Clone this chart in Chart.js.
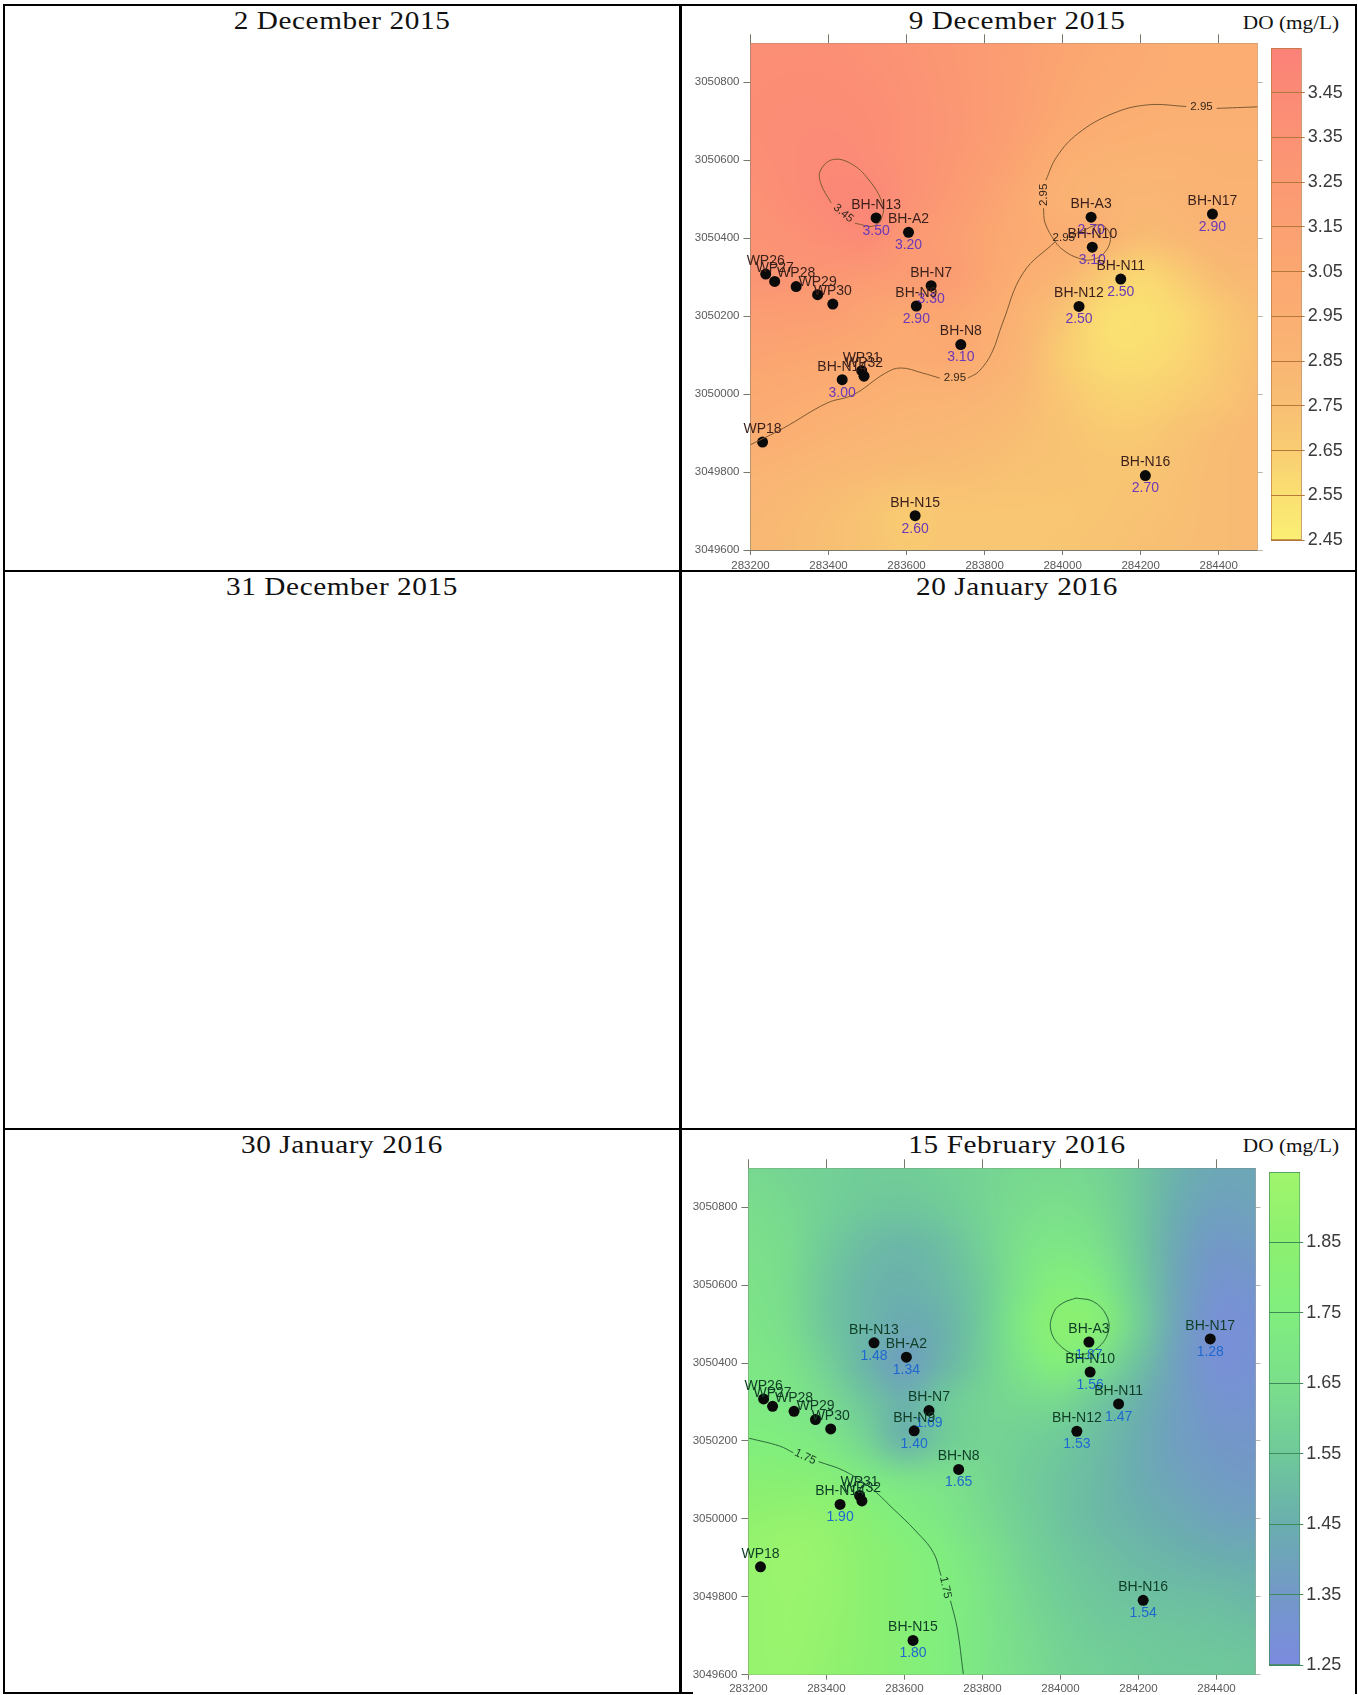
<!DOCTYPE html>
<html>
<head>
<meta charset="utf-8">
<title>DO (mg/L)</title>
<script src="https://cdn.jsdelivr.net/npm/chart.js@4"></script>
<style>
  body { margin: 0; background: #fff; }
  #page { position: relative; width: 1358px; height: 1695px; overflow: hidden; }
  .rule { position: absolute; background: #000; }
  .title { position: absolute; width: 400px; text-align: center; color: #111;
           font: 25px "Liberation Serif", serif; letter-spacing: 0.5px;
           transform: translate(-50%, -50%) scaleX(1.17); white-space: nowrap; }
  .unit { position: absolute; color: #111; font: 19px "Liberation Serif", serif;
          transform: translate(-50%, -50%) scaleX(1.12); white-space: nowrap; }
  canvas { position: absolute; filter: blur(0.45px); }
</style>
</head>
<body>
<div id="page">
  <div class="rule" style="left:3px;top:4px;width:1354px;height:2px"></div>
  <div class="rule" style="left:3px;top:570px;width:1354px;height:2px"></div>
  <div class="rule" style="left:3px;top:1128px;width:1354px;height:2px"></div>
  <div class="rule" style="left:3px;top:1692px;width:690px;height:2px"></div>
  <div class="rule" style="left:3px;top:4px;width:2px;height:1690px"></div>
  <div class="rule" style="left:679px;top:4px;width:3px;height:1690px"></div>
  <div class="rule" style="left:1355px;top:4px;width:2px;height:1690px"></div>

  <div class="title" style="left:342px;top:21px">2 December 2015</div>
  <div class="title" style="left:1017px;top:21px">9 December 2015</div>
  <div class="title" style="left:342px;top:587px">31 December 2015</div>
  <div class="title" style="left:1017px;top:587px">20 January 2016</div>
  <div class="title" style="left:342px;top:1145px">30 January 2016</div>
  <div class="title" style="left:1017px;top:1145px">15 February 2016</div>
  <div class="unit" style="left:1291px;top:23px">DO (mg/L)</div>
  <div class="unit" style="left:1291px;top:1146px">DO (mg/L)</div>

  <canvas id="decMap" width="580" height="538" style="left:690px;top:32px"></canvas>
  <canvas id="decBar" width="82" height="552.4" style="left:1271px;top:18px"></canvas>
  <canvas id="febMap" width="580" height="538" style="left:688px;top:1157px"></canvas>
  <canvas id="febBar" width="84" height="553.6" style="left:1269px;top:1141.7px"></canvas>
</div>

<script>
// ===================================
// DATA
// ===================================
const xTickValues = [283200, 283400, 283600, 283800, 284000, 284200, 284400];
const yTickValues = [3049600, 3049800, 3050000, 3050200, 3050400, 3050600, 3050800];

// monitoring wells, same positions in both maps
const wellNames = ['BH-N13', 'BH-A2', 'BH-A3', 'BH-N17', 'BH-N10', 'BH-N11', 'BH-N7', 'BH-N9', 'BH-N12', 'BH-N8', 'BH-N14', 'WP31', 'WP32', 'WP18', 'BH-N16', 'BH-N15', 'WP26', 'WP27', 'WP28', 'WP29', 'WP30'];
const wellX = [283522, 283605, 284073, 284384, 284076, 284149, 283663, 283625, 284042, 283739, 283435, 283485, 283491, 283231, 284212, 283622, 283239, 283262, 283317, 283372, 283411];
const wellY = [3050452, 3050415, 3050454, 3050462, 3050377, 3050295, 3050278, 3050226, 3050225, 3050127, 3050037, 3050060, 3050046, 3049877, 3049791, 3049688, 3050308, 3050289, 3050276, 3050255, 3050231];
const decWellValues = ['3.50', '3.20', '2.70', '2.90', '3.10', '2.50', '3.30', '2.90', '2.50', '3.10', '3.00', '', '', '', '2.70', '2.60', '', '', '', '', ''];
const febWellValues = ['1.48', '1.34', '1.87', '1.28', '1.56', '1.47', '1.69', '1.40', '1.53', '1.65', '1.90', '', '', '', '1.54', '1.80', '', '', '', '', ''];

// colour surface nodes
const gridX = [283200, 283300, 283400, 283500, 283600, 283700, 283800, 283900, 284000, 284100, 284200, 284300, 284400, 284500];
const gridY = [3050900, 3050800, 3050700, 3050600, 3050500, 3050400, 3050300, 3050200, 3050100, 3050000, 3049900, 3049800, 3049700, 3049600];
const decSurface = [
  [3.38, 3.38, 3.38, 3.36, 3.32, 3.27, 3.22, 3.16, 3.09, 3.03, 2.99, 2.97, 2.97, 2.96],
  [3.40, 3.41, 3.41, 3.39, 3.34, 3.28, 3.22, 3.15, 3.07, 3.01, 2.98, 2.97, 2.96, 2.96],
  [3.41, 3.43, 3.43, 3.41, 3.36, 3.29, 3.22, 3.13, 3.03, 2.96, 2.93, 2.92, 2.92, 2.92],
  [3.39, 3.43, 3.46, 3.43, 3.36, 3.28, 3.19, 3.08, 2.94, 2.90, 2.88, 2.88, 2.89, 2.90],
  [3.36, 3.41, 3.47, 3.49, 3.36, 3.25, 3.14, 3.00, 2.90, 2.86, 2.84, 2.86, 2.88, 2.88],
  [3.33, 3.36, 3.40, 3.45, 3.25, 3.20, 3.08, 2.99, 2.96, 2.92, 2.78, 2.82, 2.86, 2.86],
  [3.30, 3.30, 3.28, 3.24, 3.22, 3.22, 3.08, 2.94, 2.86, 2.68, 2.58, 2.66, 2.78, 2.82],
  [3.20, 3.18, 3.16, 3.10, 3.02, 3.06, 2.98, 2.88, 2.72, 2.56, 2.54, 2.58, 2.68, 2.76],
  [3.10, 3.08, 3.05, 3.02, 3.00, 3.02, 2.96, 2.84, 2.66, 2.57, 2.56, 2.60, 2.68, 2.76],
  [3.02, 3.00, 2.97, 2.93, 2.90, 2.89, 2.86, 2.80, 2.70, 2.63, 2.62, 2.65, 2.70, 2.78],
  [2.97, 2.93, 2.89, 2.86, 2.84, 2.83, 2.80, 2.76, 2.72, 2.68, 2.68, 2.72, 2.77, 2.80],
  [2.88, 2.85, 2.82, 2.80, 2.78, 2.77, 2.75, 2.73, 2.72, 2.71, 2.71, 2.74, 2.78, 2.80],
  [2.84, 2.80, 2.76, 2.72, 2.66, 2.70, 2.70, 2.70, 2.70, 2.71, 2.73, 2.75, 2.78, 2.80],
  [2.82, 2.79, 2.75, 2.72, 2.68, 2.70, 2.70, 2.70, 2.71, 2.72, 2.74, 2.76, 2.78, 2.80]
];
const febSurface = [
  [1.62, 1.60, 1.58, 1.57, 1.57, 1.58, 1.60, 1.62, 1.62, 1.60, 1.54, 1.46, 1.42, 1.42],
  [1.64, 1.62, 1.58, 1.55, 1.54, 1.56, 1.60, 1.63, 1.65, 1.62, 1.54, 1.44, 1.39, 1.40],
  [1.65, 1.63, 1.56, 1.50, 1.48, 1.51, 1.58, 1.66, 1.70, 1.65, 1.54, 1.42, 1.35, 1.37],
  [1.67, 1.63, 1.54, 1.48, 1.46, 1.49, 1.56, 1.68, 1.78, 1.72, 1.56, 1.41, 1.32, 1.33],
  [1.68, 1.64, 1.54, 1.48, 1.43, 1.46, 1.56, 1.72, 1.85, 1.82, 1.58, 1.40, 1.29, 1.30],
  [1.70, 1.67, 1.58, 1.47, 1.38, 1.47, 1.57, 1.68, 1.78, 1.65, 1.52, 1.38, 1.29, 1.30],
  [1.72, 1.70, 1.63, 1.54, 1.46, 1.55, 1.60, 1.62, 1.62, 1.54, 1.46, 1.38, 1.32, 1.32],
  [1.75, 1.74, 1.70, 1.60, 1.46, 1.56, 1.60, 1.58, 1.55, 1.50, 1.44, 1.38, 1.35, 1.34],
  [1.82, 1.82, 1.80, 1.73, 1.68, 1.66, 1.62, 1.57, 1.53, 1.49, 1.44, 1.40, 1.37, 1.36],
  [1.87, 1.89, 1.88, 1.82, 1.75, 1.70, 1.63, 1.58, 1.53, 1.49, 1.46, 1.43, 1.40, 1.39],
  [1.90, 1.93, 1.90, 1.85, 1.80, 1.74, 1.67, 1.60, 1.55, 1.52, 1.49, 1.47, 1.45, 1.44],
  [1.90, 1.92, 1.90, 1.85, 1.80, 1.76, 1.69, 1.62, 1.57, 1.54, 1.52, 1.51, 1.50, 1.48],
  [1.90, 1.92, 1.89, 1.85, 1.81, 1.75, 1.69, 1.63, 1.59, 1.56, 1.55, 1.54, 1.53, 1.52],
  [1.90, 1.91, 1.88, 1.84, 1.80, 1.75, 1.69, 1.64, 1.60, 1.58, 1.56, 1.55, 1.55, 1.54]
];

// contour line segments (broken where the label sits)
const decContours = [
  [[284500, 3050737], [284395, 3050733]],
  [[284317, 3050738], [284218, 3050742], [284129, 3050720], [284040, 3050669], [283985, 3050609], [283957, 3050549]],
  [[283951, 3050477], [283955, 3050439], [283981, 3050391], [284001, 3050370], [284032, 3050352], [284071, 3050344], [284109, 3050365], [284122, 3050408], [284096, 3050434], [284045, 3050416], [284025, 3050408]],
  [[283981, 3050391], [283899, 3050311], [283846, 3050182], [283818, 3050105], [283785, 3050058], [283757, 3050041]],
  [[283685, 3050041], [283641, 3050054], [283585, 3050067], [283546, 3050054], [283463, 3049998], [283396, 3049977], [283285, 3049913], [283200, 3049870]],
  [[283468, 3050438], [283518, 3050432], [283540, 3050464], [283535, 3050498], [283507, 3050545], [283463, 3050588], [283413, 3050602], [283380, 3050575], [283380, 3050541], [283407, 3050490]]
];
const febContours = [
  [[283202, 3050207], [283280, 3050187], [283315, 3050170]],
  [[283380, 3050147], [283446, 3050123], [283513, 3050080], [283568, 3050029], [283629, 3049969], [283674, 3049914], [283694, 3049854]],
  [[283718, 3049790], [283735, 3049721], [283751, 3049602]],
  [[284040, 3050567], [284084, 3050558], [284117, 3050524], [284123, 3050482], [284095, 3050439], [284045, 3050422], [284001, 3050443], [283975, 3050486], [283984, 3050533], [284006, 3050554], [284040, 3050567]]
];
const decContourLabels = [
  { x: 284356, y: 3050736, text: '2.95', angle: 0 },
  { x: 283953, y: 3050511, text: '2.95', angle: -90 },
  { x: 283724, y: 3050041, text: '2.95', angle: 0 },
  { x: 284003, y: 3050402, text: '2.95', angle: 0 },
  { x: 283438, y: 3050464, text: '3.45', angle: 40 }
];
const febContourLabels = [
  { x: 283346, y: 3050159, text: '1.75', angle: 25 },
  { x: 283705, y: 3049824, text: '1.75', angle: 78 }
];

// colour bars
const decBarTicks = [2.45, 2.55, 2.65, 2.75, 2.85, 2.95, 3.05, 3.15, 3.25, 3.35, 3.45];
const decBarRange = [2.45, 3.55];
const decRampValues = [2.45, 2.55, 2.65, 2.75, 2.85, 2.95, 3.05, 3.25, 3.45, 3.55];
const decRampColors = ['#fbef74', '#fae072', '#f9cd72', '#f8bf73', '#f9b574', '#fbae72', '#fba771', '#fb9973', '#fb8a76', '#fb8178'];
const febBarTicks = [1.25, 1.35, 1.45, 1.55, 1.65, 1.75, 1.85];
const febBarRange = [1.25, 1.95];
const febRampValues = [1.25, 1.35, 1.45, 1.55, 1.65, 1.75, 1.85, 1.95];
const febRampColors = ['#7b8be0', '#7398c8', '#6aaeae', '#6fc99a', '#7bdf8b', '#80ee7e', '#8cf070', '#a0f56c'];

// ===================================
// HELPERS
// ===================================
function rampColor(value, values, colors) {
  let i = 0;
  while (i < values.length - 2 && value > values[i + 1]) i++;
  const t = Math.min(1, Math.max(0, (value - values[i]) / (values[i + 1] - values[i])));
  const a = parseInt(colors[i].slice(1), 16);
  const b = parseInt(colors[i + 1].slice(1), 16);
  return [16, 8, 0].map(s => Math.round(((a >> s) & 255) * (1 - t) + ((b >> s) & 255) * t));
}

// paints the surface nodes under the datasets, placed with the chart's own scales
function surfacePlugin(surface, rampValues, rampColors) {
  return {
    id: 'surface',
    beforeDatasetsDraw(chart) {
      const { ctx, chartArea, scales } = chart;
      const off = document.createElement('canvas');
      off.width = gridX.length;
      off.height = gridY.length;
      const offCtx = off.getContext('2d');
      const img = offCtx.createImageData(off.width, off.height);
      surface.forEach((row, r) => row.forEach((v, c) => {
        const rgb = rampColor(v, rampValues, rampColors);
        img.data.set([rgb[0], rgb[1], rgb[2], 255], (r * off.width + c) * 4);
      }));
      offCtx.putImageData(img, 0, 0);
      const halfX = (gridX[1] - gridX[0]) / 2;
      const halfY = (gridY[0] - gridY[1]) / 2;
      const left = scales.x.getPixelForValue(gridX[0] - halfX);
      const right = scales.x.getPixelForValue(gridX[gridX.length - 1] + halfX);
      const top = scales.y.getPixelForValue(gridY[0] + halfY);
      const bottom = scales.y.getPixelForValue(gridY[gridY.length - 1] - halfY);
      ctx.save();
      ctx.beginPath();
      ctx.rect(chartArea.left, chartArea.top, chartArea.width, chartArea.height);
      ctx.clip();
      ctx.imageSmoothingEnabled = true;
      ctx.imageSmoothingQuality = 'high';
      ctx.drawImage(off, left, top, right - left, bottom - top);
      ctx.restore();
    }
  };
}

// well names and values, contour labels
function textPlugin(wellValues, valueColor, nameColor, contourLabels, labelColor) {
  return {
    id: 'mapText',
    afterDatasetsDraw(chart) {
      const { ctx, scales } = chart;
      ctx.save();
      ctx.textAlign = 'center';
      ctx.textBaseline = 'middle';
      contourLabels.forEach(l => {
        ctx.save();
        ctx.translate(scales.x.getPixelForValue(l.x), scales.y.getPixelForValue(l.y));
        ctx.rotate(l.angle * Math.PI / 180);
        ctx.fillStyle = labelColor;
        ctx.font = '11.5px "Liberation Sans"';
        ctx.fillText(l.text, 0, 0);
        ctx.restore();
      });
      wellNames.forEach((name, i) => {
        const px = scales.x.getPixelForValue(wellX[i]);
        const py = scales.y.getPixelForValue(wellY[i]);
        ctx.font = '14px "Liberation Sans"';
        ctx.fillStyle = nameColor;
        ctx.fillText(name, px, py - 13);
        if (wellValues[i]) {
          ctx.fillStyle = valueColor;
          ctx.fillText(wellValues[i], px, py + 13);
        }
      });
      ctx.restore();
    }
  };
}

function fixedTicks(values) {
  return scale => { scale.ticks = values.map(v => ({ value: v })); };
}

const axisLine = '#77776a';

function buildMap(id, cfg) {
  const contourSets = cfg.contours.map(seg => ({
    data: seg.map(p => ({ x: p[0], y: p[1] })),
    showLine: true,
    pointRadius: 0,
    borderColor: cfg.contourColor,
    borderWidth: 1,
    tension: 0.4
  }));
  const wells = {
    data: wellNames.map((n, i) => ({ x: wellX[i], y: wellY[i] })),
    pointRadius: 5.5,
    pointBackgroundColor: '#0a0a0a',
    pointBorderWidth: 0
  };
  new Chart(document.getElementById(id).getContext('2d'), {
    type: 'scatter',
    data: { datasets: contourSets.concat([wells]) },
    options: {
      responsive: false,
      animation: false,
      layout: { padding: 0 },
      plugins: { legend: { display: false }, title: { display: false }, tooltip: { enabled: false } },
      scales: {
        x: {
          type: 'linear', position: 'bottom', min: 283200, max: 284500,
          afterBuildTicks: fixedTicks(xTickValues),
          afterFit: s => { s.height = cfg.bottom; },
          grid: { drawOnChartArea: false, tickLength: 5, color: axisLine },
          border: { color: axisLine },
          ticks: { callback: v => String(v), autoSkip: false, maxRotation: 0, padding: cfg.xLabelPad, color: '#5a5a5a', font: { size: 11.5, family: 'Liberation Sans' } }
        },
        xTop: {
          type: 'linear', position: 'top', min: 283200, max: 284500,
          afterBuildTicks: fixedTicks(xTickValues),
          afterFit: s => { s.height = cfg.top; },
          grid: { drawOnChartArea: false, tickLength: 9, color: axisLine },
          border: { color: axisLine },
          ticks: { display: false }
        },
        y: {
          type: 'linear', position: 'left', min: 3049600, max: 3050900,
          afterBuildTicks: fixedTicks(yTickValues),
          afterFit: s => { s.width = cfg.left; },
          grid: { drawOnChartArea: false, tickLength: 7, color: axisLine },
          border: { color: axisLine },
          ticks: { callback: v => String(v), autoSkip: false, padding: 4, color: '#5a5a5a', font: { size: 11.5, family: 'Liberation Sans' } }
        },
        yRight: {
          type: 'linear', position: 'right', min: 3049600, max: 3050900,
          afterBuildTicks: fixedTicks(yTickValues),
          afterFit: s => { s.width = cfg.right; },
          grid: { drawOnChartArea: false, tickLength: 5, color: '#b5b5a8' },
          border: { color: '#a5a59a' },
          ticks: { display: false }
        }
      }
    },
    plugins: [
      surfacePlugin(cfg.surface, cfg.rampValues, cfg.rampColors),
      textPlugin(cfg.wellValues, cfg.valueColor, cfg.nameColor, cfg.contourLabels, cfg.labelColor)
    ]
  });
}

function buildBar(id, cfg) {
  new Chart(document.getElementById(id).getContext('2d'), {
    type: 'bar',
    data: {
      labels: ['DO'],
      datasets: [{
        data: [cfg.range],
        barPercentage: 1,
        categoryPercentage: 1,
        borderColor: cfg.lineColor,
        borderWidth: 1,
        borderSkipped: false,
        backgroundColor: ctx => {
          const chart = ctx.chart;
          if (!chart.chartArea) return cfg.rampColors[0];
          const sy = chart.scales.y;
          const top = sy.getPixelForValue(cfg.range[1]);
          const bottom = sy.getPixelForValue(cfg.range[0]);
          const g = chart.ctx.createLinearGradient(0, bottom, 0, top);
          cfg.rampValues.forEach((v, i) => {
            g.addColorStop((v - cfg.range[0]) / (cfg.range[1] - cfg.range[0]), cfg.rampColors[i]);
          });
          return g;
        }
      }]
    },
    options: {
      responsive: false,
      animation: false,
      layout: { padding: { top: 30, bottom: 30 } },
      plugins: { legend: { display: false }, tooltip: { enabled: false } },
      scales: {
        x: { display: false },
        y: {
          position: 'right',
          min: cfg.range[0],
          max: cfg.range[1],
          afterBuildTicks: fixedTicks(cfg.ticks),
          afterFit: s => { s.width = cfg.axisWidth; },
          grid: { color: cfg.lineColor, z: 1, tickLength: 3 },
          border: { display: false },
          ticks: { callback: v => v.toFixed(2), autoSkip: false, padding: 3, color: '#3a3a3a', font: { size: 18, family: 'Liberation Sans' } }
        }
      }
    }
  });
}

// ===================================
// RENDER
// ===================================
buildMap('decMap', {
  left: 60.5, right: 12.3, top: 11.3, bottom: 20, xLabelPad: 4,
  surface: decSurface, rampValues: decRampValues, rampColors: decRampColors,
  contours: decContours, contourColor: '#7d5a32', labelColor: '#33261a', contourLabels: decContourLabels,
  wellValues: decWellValues, valueColor: '#6a38b8', nameColor: '#3a1f1a'
});
buildBar('decBar', {
  range: decBarRange, ticks: decBarTicks, rampValues: decRampValues, rampColors: decRampColors,
  axisWidth: 51.3, lineColor: '#b5773a'
});
buildMap('febMap', {
  left: 60.4, right: 12.5, top: 11.3, bottom: 20.3, xLabelPad: 2,
  surface: febSurface, rampValues: febRampValues, rampColors: febRampColors,
  contours: febContours, contourColor: '#2c6b3c', labelColor: '#163a22', contourLabels: febContourLabels,
  wellValues: febWellValues, valueColor: '#1f68d0', nameColor: '#0f3d25'
});
buildBar('febBar', {
  range: febBarRange, ticks: febBarTicks, rampValues: febRampValues, rampColors: febRampColors,
  axisWidth: 52.8, lineColor: '#3f8a5a'
});
</script>
</body>
</html>
